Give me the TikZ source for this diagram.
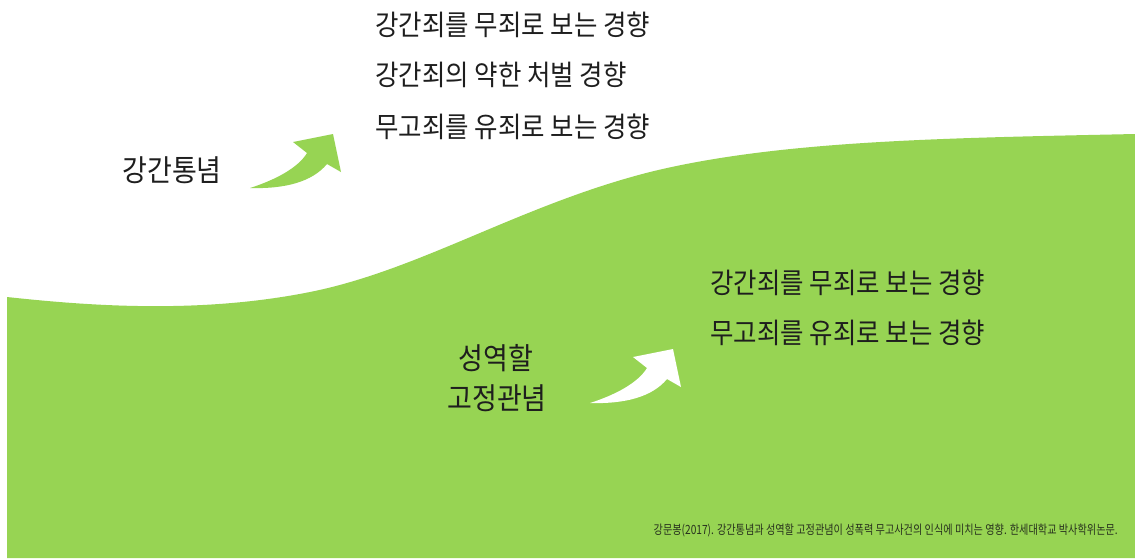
\documentclass[tikz,border=0pt]{standalone}
\usepackage{fontspec}
\newfontfamily\kr[FakeStretch=0.9]{Noto Sans CJK KR}
\newfontfamily\krc[FakeStretch=0.8]{Noto Sans CJK KR}
\definecolor{leaf}{RGB}{151,212,83}
\definecolor{ink}{RGB}{30,30,30}
\definecolor{capink}{RGB}{40,50,30}
\tikzset{
  bigtxt/.style={font=\kr\fontsize{28.3}{32}\selectfont, text=ink, inner sep=0pt},
  keytxt/.style={font=\kr\fontsize{30}{34}\selectfont, text=ink, inner sep=0pt},
  captxt/.style={font=\krc\fontsize{12.7}{15}\selectfont, text=capink, inner sep=0pt},
  curvedarrow/.pic={
    \fill[pic actions] (0,0) .. controls (25,-8) and (48,-20) .. (57,-35)
      -- (43,-46) -- (83,-54) -- (91,-16) -- (77,-24)
      .. controls (62,-6) and (35,1) .. cycle;
  }
}
\begin{document}
\begin{tikzpicture}[x=1pt,y=-1pt]
\useasboundingbox (0,0) rectangle (1135,558);
\fill[white] (0,0) rectangle (1135,558);
% green ground
\fill[leaf] (7,297) .. controls (90,306) and (200,314) .. (310,292)
  .. controls (420,270) and (520,205) .. (650,172)
  .. controls (780,140) and (950,138) .. (1135,134)
  -- (1135,558) -- (7,558) -- cycle;
% arrows
\pic[fill=leaf] at (250,188) {curvedarrow};
\pic[fill=white] at (590,403) {curvedarrow};
% texts
\node[bigtxt, anchor=west] (t1) at (375,25) {강간죄를 무죄로 보는 경향};
\node[bigtxt, anchor=west] (t2) at (375,75) {강간죄의 약한 처벌 경향};
\node[bigtxt, anchor=west] (t3) at (375,127) {무고죄를 유죄로 보는 경향};
\node[keytxt] (rm) at (172,170) {강간통념};
\node[bigtxt, anchor=west] (b1) at (710,283) {강간죄를 무죄로 보는 경향};
\node[bigtxt, anchor=west] (b2) at (710,333) {무고죄를 유죄로 보는 경향};
\node[keytxt] (g1) at (496,358) {성역할};
\node[keytxt] (g2) at (497,398) {고정관념};
\node[captxt, anchor=east] (cap) at (1118,530) {강문봉(2017). 강간통념과 성역할 고정관념이 성폭력 무고사건의 인식에 미치는 영향. 한세대학교 박사학위논문.};
\end{tikzpicture}
\end{document}
